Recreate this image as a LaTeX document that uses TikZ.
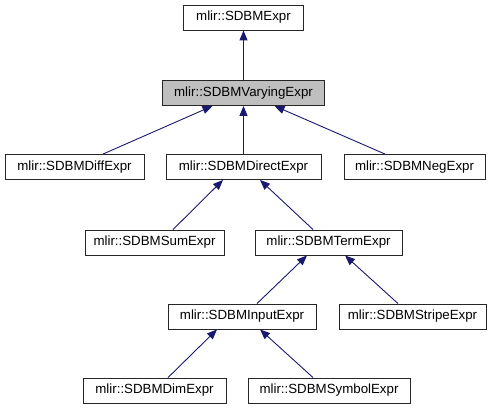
\documentclass[tikz,border=0pt]{standalone}
\usepackage{fontspec}
\setmainfont{Liberation Sans}
\usetikzlibrary{arrows.meta}
\definecolor{edgeblue}{HTML}{191970}
\definecolor{boxgray}{HTML}{BFBFBF}
\tikzset{
  cls/.style={draw=black!85, line width=0.9pt, fill=white, inner sep=0pt,
    minimum height=25pt, font=\fontsize{13.3}{16}\selectfont, text=black},
  cur/.style={cls, fill=boxgray},
  inh/.style={draw=edgeblue, line width=0.9pt,
    {Triangle[length=10pt,width=8pt,fill=edgeblue]}-},
}
\begin{document}
\begin{tikzpicture}[x=1pt,y=-1pt]
\useasboundingbox (0,0) rectangle (495,411);
\node[cls, minimum width=120pt] (expr) at (243.5,17.5) {mlir::SDBMExpr};
\node[cur, minimum width=162pt] (varying) at (243.5,93) {mlir::SDBMVaryingExpr};
\node[cls, minimum width=139pt] (diff) at (74.5,167) {mlir::SDBMDiffExpr};
\node[cls, minimum width=155pt] (direct) at (243.5,167) {mlir::SDBMDirectExpr};
\node[cls, minimum width=141pt] (neg) at (414.5,167) {mlir::SDBMNegExpr};
\node[cls, minimum width=139pt] (sum) at (154.5,242.5) {mlir::SDBMSumExpr};
\node[cls, minimum width=147pt] (term) at (328.5,242.5) {mlir::SDBMTermExpr};
\node[cls, minimum width=148pt] (input) at (242,316.5) {mlir::SDBMInputExpr};
\node[cls, minimum width=147pt] (stripe) at (412.5,316.5) {mlir::SDBMStripeExpr};
\node[cls, minimum width=143pt] (dim) at (154.5,390.5) {mlir::SDBMDimExpr};
\node[cls, minimum width=162pt] (symbol) at (329,390.5) {mlir::SDBMSymbolExpr};

\draw[inh] (expr.south) -- (varying.north);
\draw[inh] ([xshift=-31pt]varying.south) -- ([xshift=28.5pt]diff.north);
\draw[inh] (varying.south) -- (direct.north);
\draw[inh] ([xshift=31pt]varying.south) -- ([xshift=-29.5pt]neg.north);
\draw[inh] ([xshift=-20.5pt]direct.south) -- ([xshift=18.5pt]sum.north);
\draw[inh] ([xshift=16.5pt]direct.south) -- ([xshift=-15.5pt]term.north);
\draw[inh] ([xshift=-21.5pt]term.south) -- ([xshift=15pt]input.north);
\draw[inh] ([xshift=16.5pt]term.south) -- ([xshift=-14.5pt]stripe.north);
\draw[inh] ([xshift=-25pt]input.south) -- ([xshift=13.5pt]dim.north);
\draw[inh] ([xshift=18pt]input.south) -- ([xshift=-16pt]symbol.north);
\end{tikzpicture}
\end{document}
